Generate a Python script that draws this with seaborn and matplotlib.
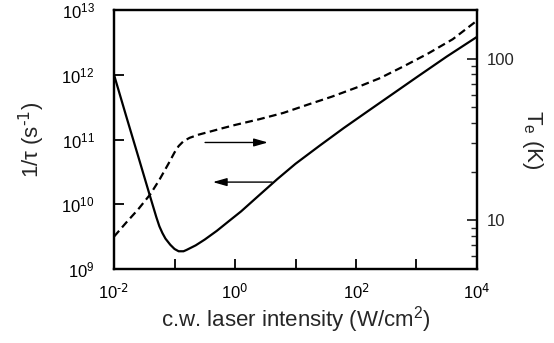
import numpy as np
import pandas as pd
import matplotlib
matplotlib.use('Agg')
import matplotlib.pyplot as plt
import matplotlib.ticker as mticker
import seaborn as sns

# solid curve: relaxation rate 1/tau vs c.w. laser intensity (left axis)
rate_intensity = [1e-2, 0.0158, 0.0251, 0.0398, 0.0501, 0.0562, 0.0631, 0.0708,
                  0.0851, 0.1, 0.117, 0.141, 0.158, 0.224, 0.316, 0.501, 0.794,
                  1.26, 2.51, 5.01, 10, 25.1, 63.1, 158, 398, 1000, 3160, 1e4]
rate = [1.00e12, 2.34e11, 5.50e10, 1.29e10, 6.31e9, 4.57e9, 3.59e9, 2.95e9,
        2.37e9, 2.04e9, 1.88e9, 1.88e9, 1.97e9, 2.32e9, 2.85e9, 3.89e9,
        5.50e9, 7.76e9, 1.38e10, 2.45e10, 4.22e10, 8.04e10, 1.51e11, 2.75e11,
        5.01e11, 9.12e11, 1.91e12, 3.85e12]

# dashed curve: electron temperature T_e (right axis)
temp_intensity = [1e-2, 0.0158, 0.0251, 0.0398, 0.0562, 0.0794, 0.1, 0.117,
                  0.141, 0.178, 0.251, 0.398, 0.631, 1.0, 2.51, 6.31, 15.8,
                  39.8, 100, 251, 631, 1580, 3980, 1e4]
temp = [7.93, 9.66, 11.7, 14.5, 17.8, 22.4, 26.3, 28.8, 30.9, 32.4, 33.9, 35.5,
        37.2, 38.9, 42.2, 46.2, 51.9, 58.2, 66.1, 75.9, 90.2, 108, 132, 172]

x_ticks = [1e-2, 1e-1, 1e0, 1e1, 1e2, 1e3, 1e4]
left_ticks = [1e9, 1e10, 1e11, 1e12, 1e13]
right_ticks = [10, 100]
right_minor = [6, 7, 8, 9, 20, 30, 40, 50, 60, 70, 80, 90]

# arrows pointing at the axis each curve belongs to (data coords of left axis)
arrow_right = ((3.5, 9e10), (0.32, 9e10))   # (head, tail)
arrow_left = ((0.43, 2.2e10), (4.1, 2.2e10))

sns.set_theme(style='ticks')
plt.rcParams['font.family'] = ['Liberation Sans', 'DejaVu Sans']
plt.rcParams['mathtext.default'] = 'regular'
plt.rcParams['axes.unicode_minus'] = False

df_rate = pd.DataFrame({'intensity': rate_intensity, 'rate': rate})
df_temp = pd.DataFrame({'intensity': temp_intensity, 'temp': temp})

fig, ax = plt.subplots(figsize=(5.54, 3.43), dpi=100)
fig.subplots_adjust(left=0.2058, right=0.861, bottom=0.2157, top=0.9708)
ax2 = ax.twinx()

sns.lineplot(data=df_rate, x='intensity', y='rate', ax=ax, color='black',
             linewidth=1.6, sort=False)
sns.lineplot(data=df_temp, x='intensity', y='temp', ax=ax2, color='black',
             linewidth=1.6, sort=False, linestyle=(0, (3.5, 2.0)))

ax.set_xscale('log')
ax.set_yscale('log')
ax2.set_yscale('log')
ax.set_xlim(1e-2, 1e4)
ax.set_ylim(1e9, 1e13)
ax2.set_ylim(5, 200)


def x_fmt(v, pos):
    # only even decades are labelled, with a plain hyphen as in the original
    e = int(round(np.log10(v)))
    if e % 2:
        return ''
    return f'$10^{{\\text{{{e}}}}}$'


ax.xaxis.set_major_locator(mticker.FixedLocator(x_ticks))
ax.xaxis.set_major_formatter(mticker.FuncFormatter(x_fmt))
ax.xaxis.set_minor_locator(mticker.NullLocator())
ax.yaxis.set_major_locator(mticker.FixedLocator(left_ticks))
ax.yaxis.set_major_formatter(mticker.LogFormatterMathtext())
ax.yaxis.set_minor_locator(mticker.NullLocator())
ax2.yaxis.set_major_locator(mticker.FixedLocator(right_ticks))
ax2.yaxis.set_major_formatter(mticker.FixedFormatter(['10', '100']))
ax2.yaxis.set_minor_locator(mticker.FixedLocator(right_minor))
ax2.yaxis.set_minor_formatter(mticker.NullFormatter())

ax.tick_params(axis='both', which='major', direction='in', length=7, width=1.3,
               labelsize=12, colors='black')
ax.tick_params(axis='y', pad=14)
ax.tick_params(axis='x', pad=10)
ax2.tick_params(axis='y', which='major', direction='in', length=7, width=1.3,
                labelsize=12, pad=7)
ax2.tick_params(axis='y', which='minor', direction='in', length=4, width=1.0)

for a in (ax, ax2):
    for s in a.spines.values():
        s.set_linewidth(1.6)
        s.set_color('black')
        s.set_visible(True)

ax.set_xlabel('c.w. laser intensity (W/cm$^{2}$)', fontsize=16, labelpad=1)
ax.set_ylabel('1/τ (s$^{\\text{-1}}$)', fontsize=16, labelpad=10)
ax2.set_ylabel('T$_{e}$ (K)', fontsize=16, rotation=270, labelpad=22)

for head, tail in (arrow_right, arrow_left):
    ax.annotate('', xy=head, xytext=tail,
                arrowprops=dict(arrowstyle='-|>,head_length=0.7,head_width=0.2',
                                color='black', lw=1.0, mutation_scale=12,
                                shrinkA=0, shrinkB=0))

ax.grid(False)
ax2.grid(False)
fig.savefig('out.png', dpi=100, facecolor='white')
